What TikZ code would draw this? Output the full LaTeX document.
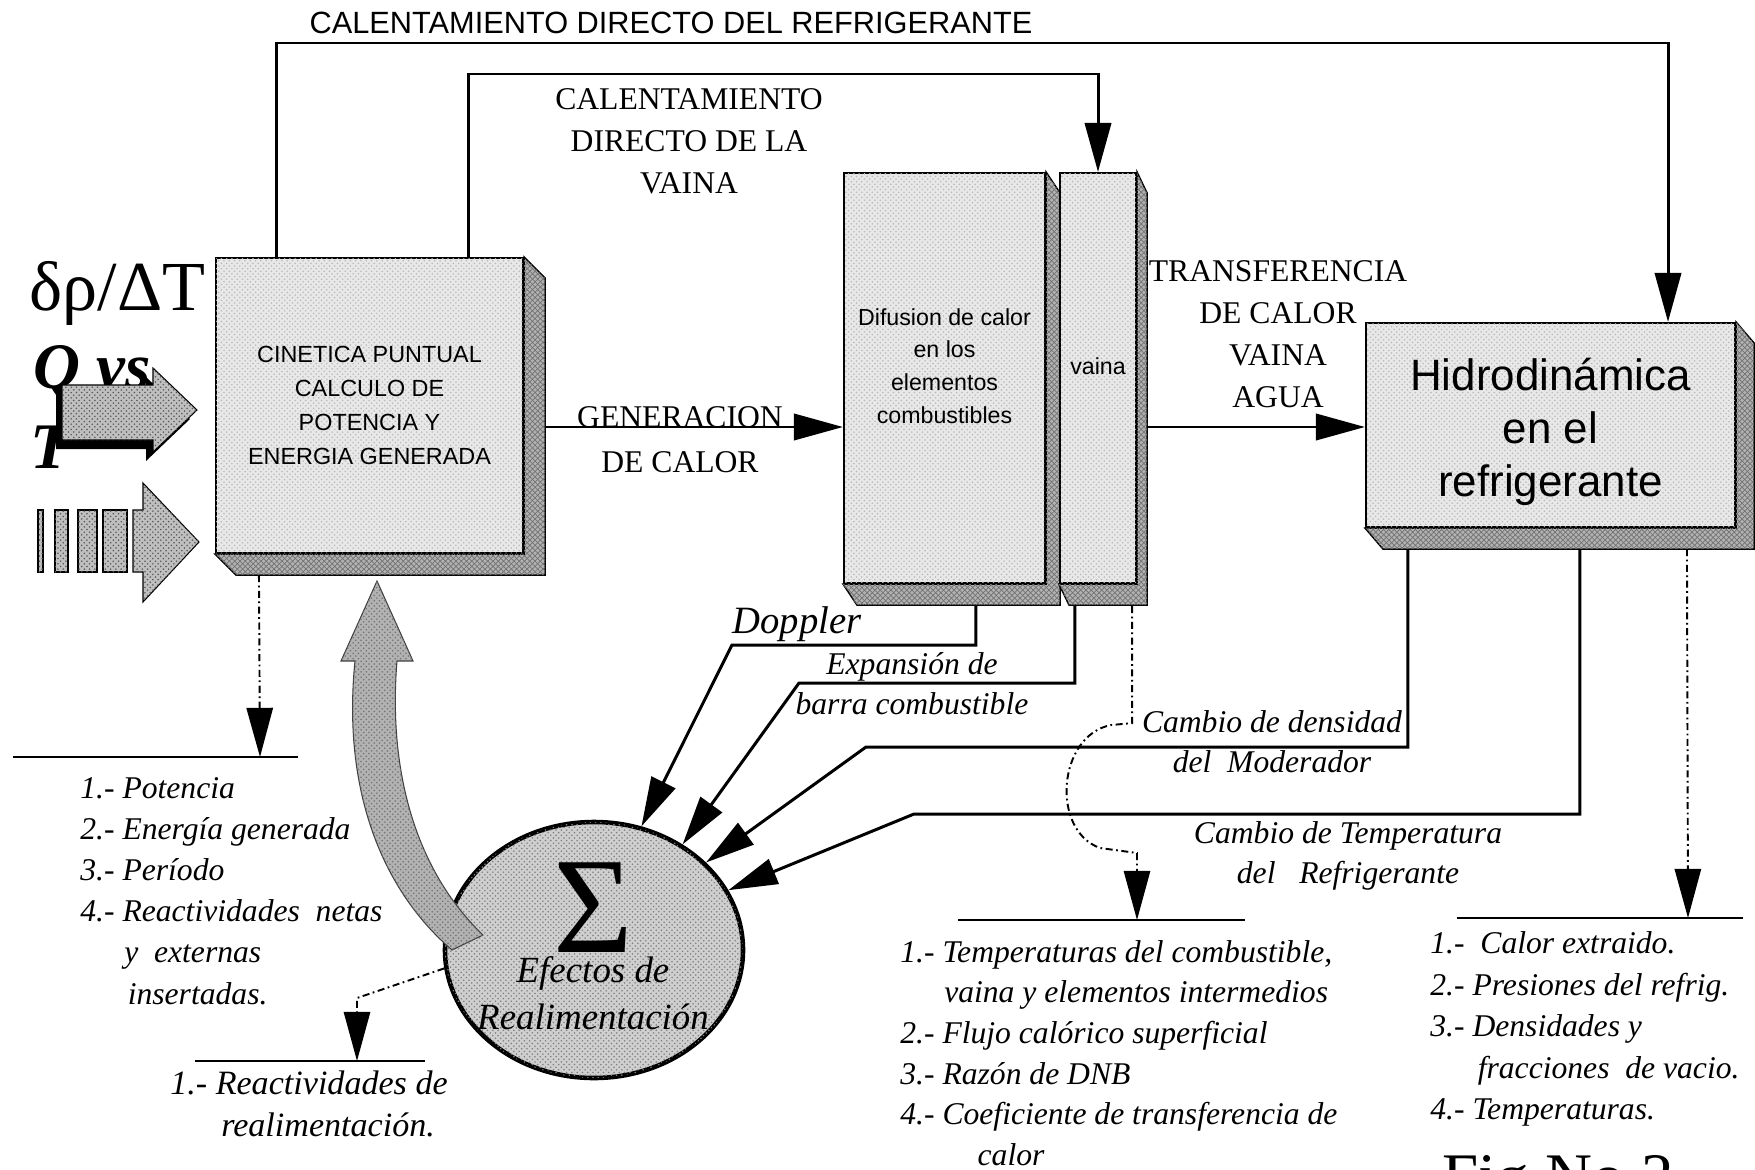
\documentclass[tikz,border=0pt]{standalone}
\usepackage{fontspec}
\setmainfont{Liberation Serif}
\setsansfont{Liberation Sans}
\usepackage{tikz}
\usetikzlibrary{arrows.meta,positioning,calc,shapes.geometric,patterns}

\newcommand{\pxu}{0.02cm}
\newcommand{\fsz}[2]{\fontsize{#1}{#2}\selectfont}

\tikzset{
  frontface/.style={draw, line width=1.2pt, fill=gray!18,
    postaction={pattern=crosshatch dots, pattern color=gray!55},
    inner sep=0pt, align=center},
  boxtxt/.style={inner sep=0pt, align=center},
  extrusion/.style={draw, line width=0.8pt, fill=gray!60,
    postaction={pattern=crosshatch, pattern color=black!55}},
  inarrow/.style={draw, line width=0.6pt, fill=gray!50,
    postaction={pattern=crosshatch dots, pattern color=black!65}},
  bigarrow/.style={draw=gray!50!black, line width=0.6pt, fill=gray!60,
    postaction={pattern=crosshatch dots, pattern color=black!55}},
  sumnode/.style={ellipse, draw, line width=2.6pt, fill=gray!38,
    postaction={pattern=crosshatch dots, pattern color=black!50},
    minimum width=298*\pxu, minimum height=256*\pxu, inner sep=0pt},
  flow/.style={line width=1.7pt, -{Triangle[length=28pt,width=15pt]}},
  chainline/.style={line width=1.1pt, dash pattern=on 4pt off 2pt on 1pt off 2pt},
  rule/.style={line width=1.6pt},
  hdr/.style={font=\fsz{18}{23.5}, align=center, inner sep=0pt},
  lbl/.style={font=\itshape\fsz{18}{22.8}, align=center, inner sep=0pt},
  listtxt/.style={font=\itshape\fsz{18}{23.4}, align=left, inner sep=0pt, anchor=west}
}

\begin{document}
\begin{tikzpicture}[x=0.02cm, y=-0.02cm]
    \useasboundingbox (0,0) rectangle (1755,1170);

    % blocks
    \node [frontface, minimum width=307*\pxu, minimum height=295*\pxu, font=\sffamily\fsz{13.3}{19.3}] (cin) at (369.5,405.5) {CINETICA PUNTUAL\\CALCULO DE\\POTENCIA Y\\ENERGIA GENERADA};
    \filldraw [extrusion] (cin.north east) -- ++(21,21) -- ($(cin.south east)+(21,21)$) -- ($(cin.south west)+(21,21)$) -- (cin.south west) -- (cin.south east) -- cycle;

    \node [frontface, minimum width=201*\pxu, minimum height=410*\pxu] (dif) at (944.5,378) {};
    \node [boxtxt, font=\sffamily\fsz{13.2}{18.6}] (diftx) at ($(dif.center)+(0,-12)$) {Difusion de calor\\en los\\elementos\\combustibles};
    \filldraw [extrusion] (dif.north east) -- ++(14,21) -- ($(dif.south east)+(14,21)$) -- ($(dif.south west)+(14,21)$) -- (dif.south west) -- (dif.south east) -- cycle;

    \node [frontface, minimum width=76*\pxu, minimum height=410*\pxu] (vai) at (1098,378) {};
    \node [boxtxt, font=\sffamily\fsz{13.2}{18.6}] (vaitx) at ($(vai.center)+(0,-12)$) {vaina};
    \filldraw [extrusion] (vai.north east) -- ++(10,21) -- ($(vai.south east)+(10,21)$) -- ($(vai.south west)+(10,21)$) -- (vai.south west) -- (vai.south east) -- cycle;

    \node [frontface, minimum width=369*\pxu, minimum height=204*\pxu] (hid) at (1550.5,425) {};
    \node [boxtxt, font=\sffamily\fsz{25}{30}] (hidtx) at ($(hid.center)+(0,7)$) {Hidrodinámica\\en el\\refrigerante};
    \filldraw [extrusion] (hid.north east) -- ++(18,21) -- ($(hid.south east)+(18,21)$) -- ($(hid.south west)+(18,21)$) -- (hid.south west) -- (hid.south east) -- cycle;

    \node [sumnode] (sum) at (594,950) {};
    \node [font=\fsz{78}{78}, inner sep=0pt] (sig) at (593,908) {Σ};
    \node [lbl, font=\itshape\fsz{21}{26.7}] (efx) at (593,993) {Efectos de\\Realimentación};

    % inputs on the left
    \node [anchor=base west, inner sep=0pt, font=\fsz{40}{40}] (drdt) at (29,310) {δρ/ΔT};
    \node [anchor=base west, inner sep=0pt, font=\bfseries\itshape\fsz{37}{37}] (qvs) at (33,388) {Q vs};
    \node [anchor=base west, inner sep=0pt, font=\bfseries\itshape\fsz{37}{37}] (tvar) at (30,468) {T};
    \fill [black] (56,394) -- (146,394) -- (146,377) -- (190,419) -- (146,461) -- (146,449) -- (56,449) -- cycle;
    \filldraw [inarrow] (62,385) -- (153,385) -- (153,368) -- (197,410) -- (153,452) -- (153,440) -- (62,440) -- cycle;
    \foreach \xa/\xb in {38/43, 55/68, 78/97, 103/127}
        \filldraw [inarrow] (\xa,510) rectangle (\xb,572);
    \filldraw [inarrow] (133,510) -- (143,510) -- (143,483) -- (199,542) -- (143,602) -- (143,572) -- (133,572) -- cycle;

    % feedback arrow
    \filldraw [bigarrow] (452,950) .. controls (382,890) and (342,790) .. (355,661) -- (341,661) -- (377,581) -- (413,661) -- (397,661) .. controls (388,770) and (415,870) .. (483,935) -- cycle;

    % labels
    \node [font=\sffamily\fsz{17.5}{20}, inner sep=0pt] (ttl) at (671,23) {CALENTAMIENTO DIRECTO DEL REFRIGERANTE};
    \node [hdr, font=\fsz{18}{23.8}] (cdv) at (689,141) {CALENTAMIENTO\\DIRECTO DE LA\\VAINA};
    \node [hdr, font=\fsz{18}{25.5}] (gen) at (680,440) {GENERACION\\DE CALOR};
    \node [hdr, font=\fsz{18}{24}] (trf) at (1278,334) {TRANSFERENCIA\\DE CALOR\\VAINA\\AGUA};
    \node [lbl, font=\itshape\fsz{22}{24}] (dop) at (797,624) {Doppler};
    \node [lbl] (exb) at (912,684) {Expansión de\\barra combustible};
    \node [lbl] (dmo) at (1272,742) {Cambio de densidad\\del\ \ Moderador};
    \node [lbl] (tre) at (1348,856) {Cambio de Temperatura\\del\ \ \ Refrigerante};

    % connectors
    \coordinate (topr) at (1668,43);
    \coordinate (topv) at (1098,74);
    \draw [flow] ($(cin.north west)+(62,0)$) |- (topr) -- (topr |- hid.north);
    \draw [flow] ($(cin.north west)+(254,0)$) |- (topv) -- (topv |- vai.north);
    \coordinate (genl) at (545,427);
    \coordinate (trl) at (1147,427);
    \draw [flow] (genl) -- (genl -| dif.west);
    \draw [flow] (trl) -- (trl -| hid.west);

    \coordinate (dopk) at (732,645);
    \coordinate (expk) at (799,683);
    \coordinate (denk) at (866,747);
    \coordinate (temk) at (914,814);
    \draw [flow] ($(dif.south west)+(133,22)$) |- (dopk) -- (sum.69);
    \draw [flow] ($(vai.south west)+(16,22)$) |- (expk) -- (sum.50);
    \draw [flow] ($(hid.south west)+(43,21)$) |- (denk) -- (sum.38);
    \draw [flow] ($(hid.south west)+(215,21)$) |- (temk) -- (sum.24);

    % outputs
    \draw [rule] (13,757) -- (298,757);
    \draw [rule] (195,1061) -- (425,1061);
    \draw [rule] (958,920) -- (1245,920);
    \draw [rule] (1457,918) -- (1743,918);
    \coordinate (potr) at (260,757);
    \coordinate (reack) at (357,998);
    \coordinate (reacr) at (357,1061);
    \coordinate (tmpr) at (1137,920);
    \coordinate (hidr) at (1688,918);
    \draw [flow, chainline] ($(cin.south west)+(44,21)$) -- (potr);
    \draw [flow, chainline] ($(hid.south west)+(322,21)$) -- (hidr);
    \draw [flow, chainline] (sum.187) -- (reack) -- (reacr);
    \draw [flow, chainline] ($(vai.south east)+(-5,22)$) -- ++(0,117) -- ++(-21,2) .. controls (1058,735) and (1050,830) .. (1100,848) -- (1137,853) -- (tmpr);

    \node [listtxt] (potl) at (80,891) {1.- Potencia\\2.- Energía generada\\3.- Período\\4.- Reactividades\ \ netas\\\hspace*{25pt}y\ \ externas\\\hspace*{27pt}insertadas.};
    \node [listtxt, font=\itshape\fsz{19.4}{23.5}] (real) at (170,1104) {1.- Reactividades de\\\hspace*{29pt}realimentación.};
    \node [listtxt, font=\itshape\fsz{18}{23.1}] (tmpl) at (900,1053) {1.- Temperaturas del combustible,\\\hspace*{25pt}vaina y elementos intermedios\\2.- Flujo calórico superficial\\3.- Razón de DNB\\4.- Coeficiente de transferencia de\\\hspace*{44pt}calor};
    \node [listtxt, font=\itshape\fsz{18}{23.6}] (hidl) at (1430,1029) {1.-\ \ Calor extraido.\\2.- Presiones del refrig.\\3.- Densidades y\\\hspace*{27pt}fracciones\ \ de vacio.\\4.- Temperaturas.};
    \node [anchor=base west, inner sep=0pt, font=\fsz{37}{37}] (fig) at (1442,1198) {Fig No 2};
\end{tikzpicture}
\end{document}
